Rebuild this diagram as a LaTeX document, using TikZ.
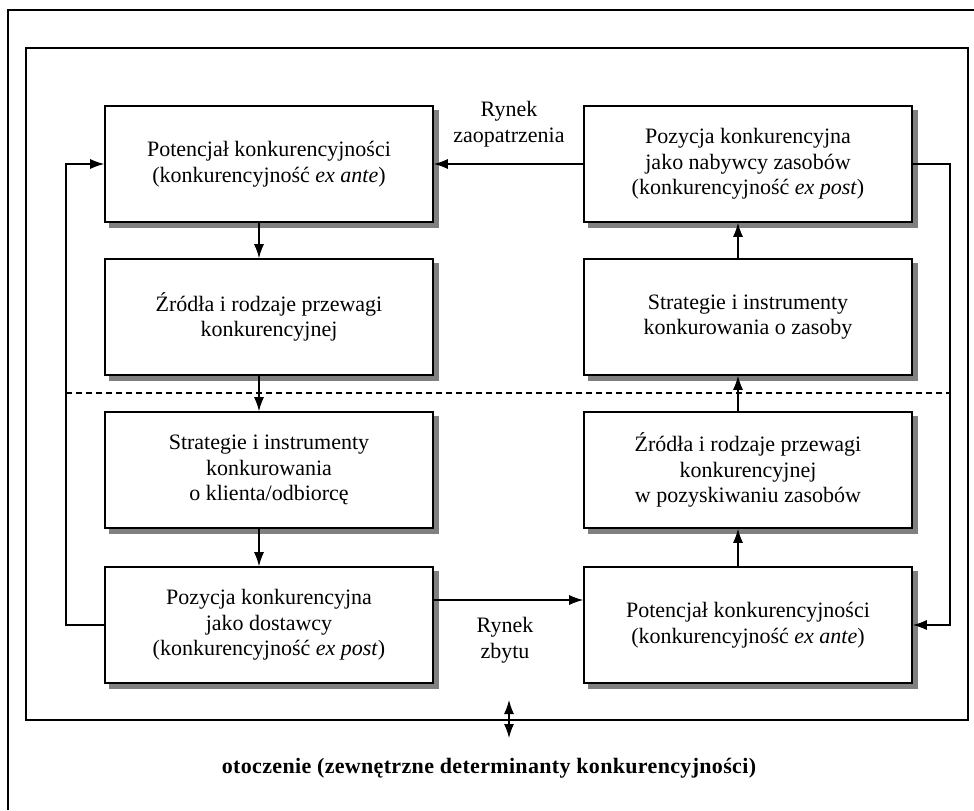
\documentclass[tikz,border=0pt]{standalone}
\usepackage{fontspec}
\setmainfont{Liberation Serif}
\usetikzlibrary{arrows.meta,backgrounds}

\tikzset{
	box/.style={draw, line width=0.8pt, fill=white, align=center, minimum width=164pt, minimum height=58pt, inner sep=2pt},
	arr/.style={line width=0.6pt, -{Latex[length=7pt,width=5pt]}},
	frame/.style={line width=0.7pt}
}

\begin{document}
\begin{tikzpicture}[x=0.5pt,y=-0.5pt]
\tikzstyle{every node}=[font=\fontsize{11}{12.8}\selectfont, align=center]
	\useasboundingbox (0,0) rectangle (974,810);
	\draw[frame] (8,810) -- (8,10) -- (974,10);
	\draw[frame] (26,48) rectangle (968,720);

	% lewa kolumna
	\node[box] (pk1) at (269,164) {Potencjał konkurencyjności\\(konkurencyjność \textit{ex ante})};
	\node[box] (zr1) at (269,317) {Źródła i rodzaje przewagi\\konkurencyjnej};
	\node[box] (st1) at (269,470) {Strategie i instrumenty\\konkurowania\\o klienta/odbiorcę};
	\node[box] (poz1) at (269,625) {Pozycja konkurencyjna\\jako dostawcy\\(konkurencyjność \textit{ex post})};

	% prawa kolumna
	\node[box] (poz2) at (748,164) {Pozycja konkurencyjna\\jako nabywcy zasobów\\(konkurencyjność \textit{ex post})};
	\node[box] (st2) at (748,317) {Strategie i instrumenty\\konkurowania o zasoby};
	\node[box] (zr2) at (748,470) {Źródła i rodzaje przewagi\\konkurencyjnej\\w pozyskiwaniu zasobów};
	\node[box] (pk2) at (748,625) {Potencjał konkurencyjności\\(konkurencyjność \textit{ex ante})};

	% cienie
	\begin{scope}[on background layer]
		\foreach \n in {pk1,zr1,st1,poz1,poz2,st2,zr2,pk2}
			\fill[black!50] ([xshift=2.4pt,yshift=-2.4pt]\n.south west) rectangle ([xshift=2.4pt,yshift=-2.4pt]\n.north east);
	\end{scope}

	\draw[dashed, dash pattern=on 3pt off 2pt, line width=0.6pt] (66,393) -- (950,393);

	\draw[arr] ([xshift=-5pt]pk1.south) -- ([xshift=-5pt]zr1.north);
	\draw[arr] ([xshift=-5pt]zr1.south) -- ([xshift=-5pt]st1.north);
	\draw[arr] ([xshift=-5pt]st1.south) -- ([xshift=-5pt]poz1.north);
	\draw[arr] ([xshift=-5pt]pk2.north) -- ([xshift=-5pt]zr2.south);
	\draw[arr] ([xshift=-5pt]zr2.north) -- ([xshift=-5pt]st2.south);
	\draw[arr] ([xshift=-5pt]st2.north) -- ([xshift=-5pt]poz2.south);

	\draw[arr] (poz2.west) -- (pk1.east);
	\node (rz) at (509,124) {Rynek\\zaopatrzenia};
	\draw[arr] ([yshift=12.5pt]poz1.east) -- ([yshift=12.5pt]poz1.east -| pk2.west);
	\node (rzb) at (505,640) {Rynek\\zbytu};

	\coordinate (lx) at (66,0);
	\coordinate (rx) at (950,0);
	\draw[arr] (poz1.west) -- (poz1.west -| lx) -- (pk1.west -| lx) -- (pk1.west);
	\draw[arr] (poz2.east) -- (poz2.east -| rx) -- (pk2.east -| rx) -- (pk2.east);

	\node[font=\fontsize{11}{12.8}\selectfont\bfseries\addfontfeature{LetterSpace=1.5}] (otocz) at (489,768) {otoczenie (zewnętrzne determinanty konkurencyjności)};
	\coordinate (e1) at (509,700);
	\coordinate (e2) at (509,738);
	\draw[line width=0.6pt, {Latex[length=7pt,width=5pt]}-{Latex[length=7pt,width=5pt]}] (e1) -- (e2);
\end{tikzpicture}
\end{document}
